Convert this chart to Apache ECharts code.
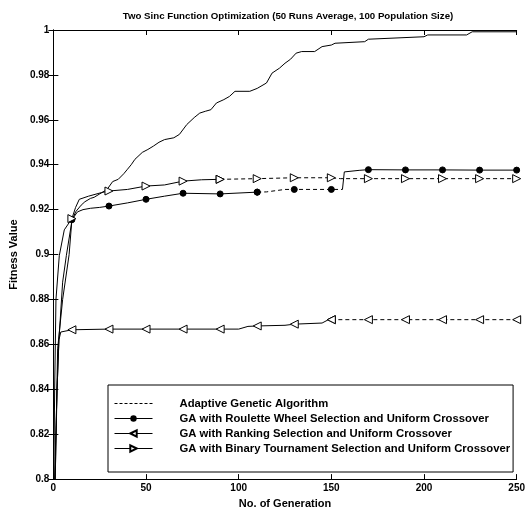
<!DOCTYPE html>
<html>
<head>
<meta charset="utf-8">
<script src="https://cdn.jsdelivr.net/npm/echarts@6/dist/echarts.min.js"></script>
<style>html,body{margin:0;padding:0;background:#fff;}#c{width:528px;height:514px;}</style>
</head>
<body>
<div id="c"></div>
<script>
// ---- data ----
const seriesNames = [
  'Adaptive Genetic Algorithm',
  'GA with Roulette Wheel Selection and Uniform Crossover',
  'GA with Ranking Selection and Uniform Crossover',
  'GA with Binary Tournament Selection and Uniform Crossover'
];
const markerGens = [10, 30, 50, 70, 90, 110, 130, 150, 170, 190, 210, 230, 250];

const adaptiveGen = [0, 1, 2, 3, 5, 7, 10, 12, 15, 17, 20, 22, 25, 29, 32, 35, 38, 40, 42, 44, 48, 51, 54, 57, 60, 65, 68, 72, 76, 79, 82, 85, 88, 92, 95, 98, 106, 110, 115, 118, 122, 125, 128, 131, 134, 141, 145, 150, 152, 168, 170, 200, 202, 223, 226, 250];
const adaptiveVal = [0.78, 0.81, 0.84, 0.862, 0.8877, 0.8995, 0.915, 0.919, 0.922, 0.9235, 0.925, 0.9255, 0.927, 0.929, 0.9325, 0.9335, 0.936, 0.938, 0.940, 0.9424, 0.9455, 0.9468, 0.9483, 0.950, 0.9512, 0.952, 0.9535, 0.9579, 0.961, 0.963, 0.9638, 0.9645, 0.9675, 0.969, 0.9704, 0.9727, 0.9727, 0.974, 0.9764, 0.9808, 0.983, 0.9852, 0.987, 0.9897, 0.9904, 0.9904, 0.9926, 0.9933, 0.9941, 0.9948, 0.9959, 0.997, 0.9978, 0.9978, 0.9992, 0.9992];

const rouletteGen = [0, 1, 2.3, 5, 8.5, 10, 13, 16, 20, 25, 30, 40, 50, 60, 70, 90, 110, 115, 125, 130, 150, 156, 157, 165, 170, 190, 210, 230, 250];
const rouletteVal = [0.74, 0.80, 0.858, 0.88, 0.90, 0.9155, 0.919, 0.920, 0.9206, 0.921, 0.9216, 0.923, 0.9246, 0.926, 0.9273, 0.9270, 0.9278, 0.9279, 0.929, 0.929, 0.929, 0.929, 0.9368, 0.9375, 0.9378, 0.9377, 0.9377, 0.9376, 0.9376];

const rankingGen = [0, 1, 2, 3, 4, 10, 30, 50, 70, 90, 100, 105, 110, 125, 130, 145, 148, 150, 170, 190, 210, 230, 250];
const rankingVal = [0.74, 0.80, 0.84, 0.862, 0.8655, 0.8665, 0.8668, 0.8668, 0.8668, 0.8668, 0.8668, 0.868, 0.8682, 0.8685, 0.869, 0.8695, 0.8708, 0.871, 0.871, 0.871, 0.871, 0.871, 0.871];

const binaryGen = [0, 0.7, 1.4, 3.2, 5.9, 10, 12, 14, 19, 26, 30, 40, 50, 60, 70, 80, 90, 110, 130, 150, 155, 170, 190, 210, 230, 250];
const binaryVal = [0.78, 0.84, 0.88, 0.8995, 0.911, 0.916, 0.921, 0.9246, 0.926, 0.9276, 0.9283, 0.929, 0.9305, 0.931, 0.9327, 0.9333, 0.9335, 0.9338, 0.9342, 0.9342, 0.9338, 0.9338, 0.9338, 0.9338, 0.9338, 0.9338];

const xTicks = [0, 50, 100, 150, 200, 250];
const yMin = 0.8, yMax = 1, yStep = 0.02;
// --------------------------------------

const pairs = (g, v) => g.map((x, i) => [x, v[i]]);
const segment = (g, v, from, to) => pairs(g, v).filter(p => p[0] >= from && p[0] <= to);
const FONT = "'Liberation Sans', Arial, Helvetica, sans-serif";
const sizeAt = s => v => markerGens.indexOf(v[0]) >= 0 ? s : 0;
const triLeft = 'path://M0,5 L10,0 L10,10 Z';
const triRight = 'path://M10,5 L0,0 L0,10 Z';
const DASH = [4, 3];

const chart = echarts.init(document.getElementById('c'), null, {renderer: 'canvas'});
const axisCommon = {
  axisLine: {show: true, lineStyle: {color: '#000', width: 1}},
  axisTick: {show: true, inside: true, length: 5, lineStyle: {color: '#000'}},
  splitLine: {show: false}
};
const labelStyle = {color: '#000', fontFamily: FONT, fontWeight: 'bold', fontSize: 10};
const nameStyle = Object.assign({}, labelStyle, {fontSize: 11});
const hidden = {color: 'rgba(0,0,0,0)', borderColor: 'rgba(0,0,0,0)', borderWidth: 0};

const circleStyle = {color: '#000', borderColor: '#000'};
const openStyle = {color: '#fff', borderColor: '#000', borderWidth: 1};
function part(name, data, symbol, size, itemStyle, dashed) {
  return {name: name, type: 'line', data: data, symbol: symbol, symbolSize: sizeAt(size),
    lineStyle: {color: '#000', width: 1, type: dashed ? DASH : 'solid'}, itemStyle: itemStyle};
}

chart.setOption({
  animation: false,
  backgroundColor: '#fff',
  title: {
    text: 'Two Sinc Function Optimization (50 Runs Average, 100 Population Size)',
    left: 283, top: 6, textAlign: 'center',
    textStyle: {color: '#000', fontFamily: FONT, fontWeight: 'bold', fontSize: 9.7}
  },
  grid: {left: 48, right: 11, top: 30, bottom: 30, containLabel: false},
  xAxis: [
    Object.assign({type: 'value', min: xTicks[0], max: xTicks[xTicks.length - 1], interval: 50,
      name: 'No. of Generation', nameLocation: 'middle', nameGap: 18,
      nameTextStyle: nameStyle,
      axisLabel: Object.assign({margin: 4}, labelStyle)}, axisCommon),
    Object.assign({type: 'value', position: 'top', min: 0, max: 250, interval: 50,
      axisLabel: {show: false}}, axisCommon)
  ],
  yAxis: [
    Object.assign({type: 'value', min: yMin, max: yMax, interval: yStep,
      name: 'Fitness Value', nameLocation: 'middle', nameGap: 26,
      nameTextStyle: nameStyle,
      axisLabel: Object.assign({margin: 4, formatter: v => String(parseFloat(v.toFixed(2)))}, labelStyle)}, axisCommon),
    Object.assign({type: 'value', position: 'right', min: yMin, max: yMax, interval: yStep,
      axisLabel: {show: false}}, axisCommon)
  ],
  legend: {
    orient: 'vertical', left: 108, top: 385,
    itemWidth: 38, itemHeight: 8, itemGap: 2,
    borderColor: '#000', borderWidth: 1, padding: [12, 3, 17, 6],
    backgroundColor: '#fff',
    lineStyle: {width: 1},
    textStyle: Object.assign({padding: [0, 0, 0, 22]}, labelStyle, {fontSize: 11.3, lineHeight: 13}),
    data: [
      {name: seriesNames[0], lineStyle: {type: [3, 2], width: 1}, itemStyle: hidden},
      {name: seriesNames[1], lineStyle: {type: 'solid', width: 1}},
      {name: seriesNames[2], lineStyle: {type: 'solid', width: 1}},
      {name: seriesNames[3], lineStyle: {type: 'solid', width: 1}}
    ]
  },
  series: [
    {name: seriesNames[0], type: 'line', data: pairs(adaptiveGen, adaptiveVal), symbol: 'none',
      lineStyle: {color: '#000', width: 1}, itemStyle: {color: '#000'}},
    part(seriesNames[1], segment(rouletteGen, rouletteVal, 0, 110), 'circle', 6, circleStyle, false),
    part(seriesNames[1], segment(rouletteGen, rouletteVal, 110, 156), 'circle', 6, circleStyle, true),
    part(seriesNames[1], segment(rouletteGen, rouletteVal, 156, 250), 'circle', 6, circleStyle, false),
    part(seriesNames[2], segment(rankingGen, rankingVal, 0, 150), triLeft, 8, openStyle, false),
    part(seriesNames[2], segment(rankingGen, rankingVal, 150, 250), triLeft, 8, openStyle, true),
    part(seriesNames[3], segment(binaryGen, binaryVal, 0, 90), triRight, 8, openStyle, false),
    part(seriesNames[3], segment(binaryGen, binaryVal, 90, 250), triRight, 8, openStyle, true)
  ]
});
</script>
</body>
</html>
